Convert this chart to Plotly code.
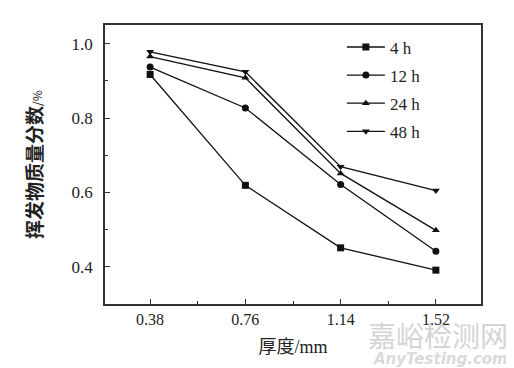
import plotly.graph_objects as go

thickness = [0.38, 0.76, 1.14, 1.52]
series_names = ["4 h", "12 h", "24 h", "48 h"]
v_4h = [0.917, 0.619, 0.451, 0.391]
v_12h = [0.937, 0.827, 0.621, 0.442]
v_24h = [0.965, 0.908, 0.651, 0.498]
v_48h = [0.978, 0.924, 0.669, 0.605]
symbols = ["square", "circle", "triangle-up", "triangle-down"]

fig = go.Figure()
for name, vals, sym in zip(series_names, [v_4h, v_12h, v_24h, v_48h], symbols):
    fig.add_trace(go.Scatter(
        x=thickness, y=vals, name=name, mode="lines+markers", legendgroup=name,
        line=dict(color="#111", width=1.3),
        marker=dict(symbol=sym, size=7, color="#111"),
    ))

serif = "Liberation Serif"
fig.update_layout(
    width=514, height=368,
    margin=dict(l=97, r=41, t=17, b=72),
    paper_bgcolor="white", plot_bgcolor="white",
    font=dict(family=serif, color="#222", size=16),
    showlegend=True,
    legend=dict(x=0.63, y=0.984, xanchor="left", yanchor="top",
                bgcolor="rgba(0,0,0,0)", font=dict(size=17, family=serif, color="#222"),
                tracegroupgap=3, itemwidth=38),
    xaxis=dict(range=[0.2, 1.7], tickmode="linear", tick0=0.38, dtick=0.38,
               ticks="inside", ticklen=5, tickcolor="#333", tickformat=".2f",
               showline=True, linecolor="#333", linewidth=1.5, mirror=True,
               showgrid=False, zeroline=False, automargin=False,
               minor=dict(ticks="inside", ticklen=3, dtick=0.19, tick0=0.38, tickcolor="#333"),
               tickfont=dict(size=16, family=serif),
               title=dict(text="厚度<span style='font-family:Liberation Serif'>/mm</span>",
                          font=dict(size=18, family="Noto Sans CJK SC", color="#222"), standoff=13)),
    yaxis=dict(range=[0.3, 1.05], tickmode="linear", tick0=0.4, dtick=0.2,
               ticks="inside", ticklen=5, tickcolor="#333", tickformat=".1f",
               showline=True, linecolor="#333", linewidth=1.5, mirror=True,
               showgrid=False, zeroline=False, automargin=False,
               minor=dict(ticks="inside", ticklen=3, dtick=0.1, tick0=0.3, tickcolor="#333"),
               tickfont=dict(size=17, family=serif), ticklabelstandoff=7,
               title=dict(text="<b>挥发物质量分数</b><span style='font-size:12px'>/%</span>",
                          font=dict(size=19, family="Noto Sans CJK SC", color="#222"), standoff=24)),
)

fig.add_annotation(text="嘉峪检测网", x=1.077, y=-0.111, xref="paper", yref="paper",
                   xanchor="right", yanchor="middle", showarrow=False,
                   font=dict(size=28, color="#d4d4d4", family="Noto Sans CJK SC"))
fig.add_annotation(text="<b><i>AnyTesting.com</i></b>", x=1.077, y=-0.197, xref="paper", yref="paper",
                   xanchor="right", yanchor="middle", showarrow=False,
                   font=dict(size=15, color="#dadada", family="DejaVu Sans"))

fig.write_html("out.html")
